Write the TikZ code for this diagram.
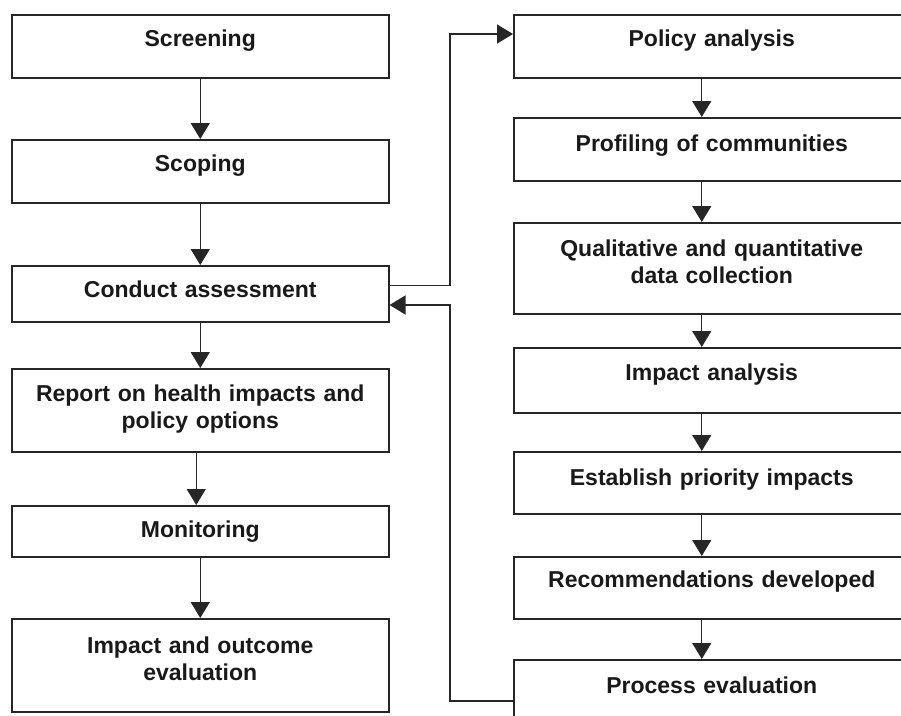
\documentclass[tikz,border=0pt]{standalone}
\usepackage{fontspec}
\setmainfont{Liberation Sans}
\usetikzlibrary{arrows.meta}

\tikzset{
  stage/.style={draw=black!85, line width=1.5pt, rectangle, anchor=north west,
    align=center, inner xsep=0pt, inner ysep=0pt, text height=32pt, text depth=#1,
    font=\fontsize{23}{27}\selectfont\bfseries, text=black!90},
  leftstage/.style={stage=#1, text width=377pt},
  rightstage/.style={stage=#1, text width=396pt},
  link/.style={draw=black!85, line width=1.4pt, -{Triangle[width=19pt,length=16pt]}},
}

\begin{document}
\begin{tikzpicture}[x=1pt,y=-1pt]
  \useasboundingbox (0,0) rectangle (901,715);
  \clip (0,0) rectangle (901,715);

  % assessment stages
  \node[leftstage=31pt] (screen) at (11,14) {Screening};
  \node[leftstage=31pt] (scope) at (11,139) {Scoping};
  \node[leftstage=24pt] (conduct) at (11,265) {Conduct assessment};
  \node[leftstage=50pt, text height=33pt] (report) at (11,368) {Report on health impacts and\\policy options};
  \node[leftstage=19pt] (monitor) at (11,505) {Monitoring};
  \node[leftstage=58pt, text height=35pt] (outcome) at (11,618) {Impact and outcome\\evaluation};

  % detail of the assessment
  \node[rightstage=31pt] (policy) at (513,14) {Policy analysis};
  \node[rightstage=29pt, text height=34pt] (profile) at (513,117) {Profiling of communities};
  \node[rightstage=57pt, text height=34pt] (quality) at (513,222) {Qualitative and quantitative\\data collection};
  \node[rightstage=32pt, text height=33pt] (impact) at (513,347) {Impact analysis};
  \node[rightstage=28pt, text height=34pt] (priority) at (513,451) {Establish priority impacts};
  \node[rightstage=31pt, text height=31pt] (recommend) at (513,556) {Recommendations developed};
  \node[rightstage=47pt, text height=34pt] (process) at (513,659) {Process evaluation};

  \foreach \a/\b in {screen/scope, scope/conduct, conduct/report, monitor/outcome}
    \draw[link] (\a) -- (\b);
  \draw[link] ([xshift=-4pt]report.south) -- ([xshift=-4pt]monitor.north);

  \foreach \a/\b in {policy/profile, profile/quality, quality/impact, impact/priority,
                     priority/recommend, recommend/process}
    \draw[link] ([xshift=-10pt]\a.south) -- ([xshift=-10pt]\b.north);

  % out to the detail and back again
  \coordinate (fwd) at (450,34);
  \coordinate (ret) at (450,701);
  \coordinate (back) at (450,305);
  \draw[link] ([yshift=8pt]conduct.east) -| (fwd) -- (policy.west |- fwd);
  \draw[link] (process.west |- ret) -- (ret) |- (conduct.east |- back);
\end{tikzpicture}
\end{document}
